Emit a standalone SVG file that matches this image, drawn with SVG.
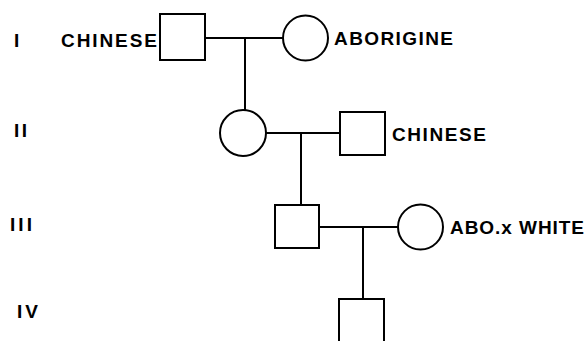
<svg xmlns="http://www.w3.org/2000/svg" width="585" height="341" viewBox="0 0 585 341">
  <style>
    .sym { fill: #fff; stroke: #000; stroke-width: 2; }
    .line { fill: none; stroke: #000; stroke-width: 2; }
    .lbl { font-family: "Liberation Sans", Arial, sans-serif; font-weight: bold; font-size: 19px; fill: #000; }
    .gen { font-family: "Liberation Sans", Arial, sans-serif; font-weight: bold; font-size: 19px; fill: #000; }
  </style>
  <rect width="585" height="341" fill="#fff"/>

  <!-- generation numerals -->
  <g id="generations">
    <text class="gen" x="14" y="47">I</text>
    <text class="gen" x="14" y="137" textLength="13" lengthAdjust="spacing">II</text>
    <text class="gen" x="10" y="231" textLength="22" lengthAdjust="spacing">III</text>
    <text class="gen" x="17" y="318" textLength="21" lengthAdjust="spacing">IV</text>
  </g>

  <!-- marriage and descent lines -->
  <g id="connectors">
    <path class="line" d="M205 38 H283 M245 38 V110"/>
    <path class="line" d="M266 133 H340 M301 133 V205"/>
    <path class="line" d="M319 227 H398 M363 227 V299"/>
  </g>

  <g id="I-1">
    <rect class="sym" x="160" y="14" width="45" height="46"/>
    <text class="lbl" x="61" y="47" textLength="96" lengthAdjust="spacing">CHINESE</text>
  </g>
  <g id="I-2">
    <circle class="sym" cx="305.5" cy="38" r="22.5"/>
    <text class="lbl" x="334" y="45" textLength="119" lengthAdjust="spacing">ABORIGINE</text>
  </g>

  <g id="II-1">
    <circle class="sym" cx="243" cy="133" r="23"/>
  </g>
  <g id="II-2">
    <rect class="sym" x="340" y="112" width="45" height="43"/>
    <text class="lbl" x="392" y="141" textLength="94" lengthAdjust="spacing">CHINESE</text>
  </g>

  <g id="III-1">
    <rect class="sym" x="275" y="205" width="44" height="43"/>
  </g>
  <g id="III-2">
    <circle class="sym" cx="420.5" cy="227" r="22.5"/>
    <text class="lbl" x="450" y="234" textLength="134" lengthAdjust="spacing">ABO.x WHITE</text>
  </g>

  <g id="IV-1">
    <rect class="sym" x="339" y="299" width="45" height="46"/>
  </g>
</svg>
